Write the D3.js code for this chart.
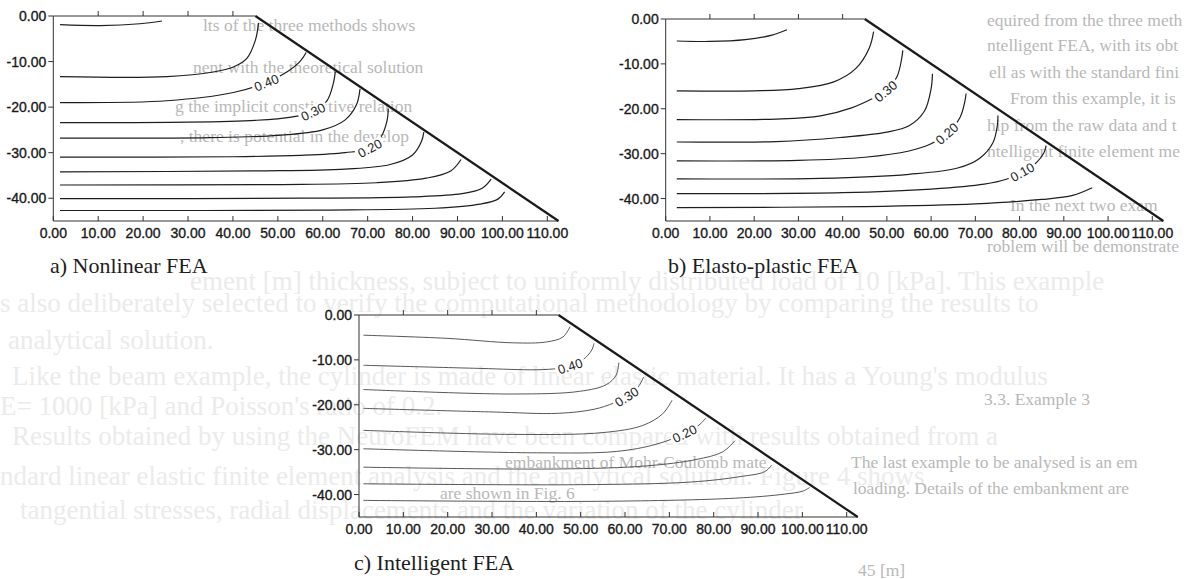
<!DOCTYPE html>
<html lang="en">
<head>
<meta charset="utf-8">
<title>embankment contours</title>
<script src="https://cdnjs.cloudflare.com/ajax/libs/d3/7.8.5/d3.min.js"></script>
<style>
  body { margin: 0; background: #fff; }
  svg { display: block; }
  .tick-label { font-family: "Liberation Sans", Arial, sans-serif; font-size: 14px; fill: #1a1a1a;
                stroke: #1a1a1a; stroke-width: 0.35px; }
  .caption { font-family: "Liberation Serif", "Times New Roman", serif; font-size: 22px; fill: #1e1e1e; }
  .clabel { font-family: "Liberation Sans", Arial, sans-serif; font-size: 13px; fill: #1e1e1e; }
  .page { font-family: "Liberation Serif", "Times New Roman", serif; }
</style>
</head>
<body>
<script>
var xTicks = [0, 10, 20, 30, 40, 50, 60, 70, 80, 90, 100, 110];
var yTicks = [0, -10, -20, -30, -40];
var crestTicks = [10, 20, 30, 40];
var crest = [[0, 0], [45, 0]];
var slope = [[45, 0], [112.5, -45]];
var captions = ["a) Nonlinear FEA", "b) Elasto-plastic FEA", "c) Intelligent FEA"];

// contour lines (x, y in metres)
var contoursA = [
  [[1.5, -1.9], [10.4, -2.1], [19.3, -1.7], [24.2, -1.1]],
  [[1.5, -13.3], [25.3, -13.3], [35.6, -12.3], [40.1, -11.2], [43.1, -9.3], [45, -5.3], [45.7, -1.5]],
  [[1.5, -19], [25.3, -18.6], [40.1, -16.8], [47.5, -14.6], [52, -12.3], [55, -9.9], [56.3, -8]],
  [[1.5, -23.4], [30, -23.3], [45, -22.9], [53, -22.2], [57.9, -21], [61, -18.5], [62.3, -15], [62.8, -12.2]],
  [[1.5, -26.8], [35, -26.7], [50, -26.2], [60, -25], [65, -22.8], [67.5, -19.5], [68.3, -16]],
  [[1.5, -31], [40, -30.9], [55, -30.6], [65, -30], [70.5, -29], [73, -26.5], [74.3, -23], [74.6, -20.3]],
  [[1.5, -34.2], [45, -34], [65, -33.6], [75, -32.6], [80, -30.5], [82, -27.5], [82.5, -25.5]],
  [[1.5, -37.1], [50, -37], [72, -36.6], [83, -35.6], [88.5, -34], [90.8, -31.5]],
  [[1.5, -40.1], [55, -40], [80, -39.7], [91, -39], [95.5, -37.8], [97.5, -35.8]],
  [[1.5, -42.7], [60, -42.6], [85, -42.2], [95, -41.3], [99, -40.2], [100.5, -38.6]]
];
var labelsA = [
  { line: 2, text: "0.40", at: [47.5, -14.6] },
  { line: 3, text: "0.30", at: [57.9, -21] },
  { line: 5, text: "0.20", at: [70.5, -29] }
];

var contoursB = [
  [[2.5, -4.9], [10, -5.0], [18, -4.6], [24, -3.6], [27.4, -2.4]],
  [[2.5, -16], [20, -16], [30, -15.5], [38, -14], [43, -11], [46, -6.5], [47, -2.8]],
  [[2.5, -22.4], [25, -22.3], [35, -21.6], [42, -19.8], [47, -17.6], [49.7, -16.1], [52.3, -12.8], [53.4, -8.5], [53.6, -7]],
  [[2.5, -27.4], [25, -27.3], [39.4, -26.4], [50, -25.2], [55, -23.8], [58.5, -20.5], [60, -15.5], [60.3, -12.2]],
  [[2.5, -31.6], [30, -31.5], [45, -30.8], [55, -29.4], [60, -27.8], [63.6, -25.5], [66.5, -22], [67.6, -18.5], [67.9, -16.6]],
  [[2.5, -35.6], [35, -35.5], [55, -34.6], [66, -33.2], [71, -31], [74, -27.5], [75, -23.5], [75.1, -21.5]],
  [[2.5, -38.9], [40, -38.7], [60, -37.9], [72, -36.8], [77, -35.7], [80.6, -34.1], [83.8, -32], [85.5, -29.8], [86, -28.2]],
  [[2.5, -42], [45, -41.8], [70, -41.2], [85, -40.2], [92, -39.3], [96.4, -37.6]]
];
var labelsB = [
  { line: 2, text: "0.30", at: [49.7, -16.1] },
  { line: 4, text: "0.20", at: [63.6, -25.5] },
  { line: 6, text: "0.10", at: [80.6, -34.1] }
];

var contoursC = [
  [[1, -4.5], [19.8, -5.2], [34.8, -6.2], [42.3, -6], [46, -4.9], [47.6, -2.6]],
  [[1, -11.2], [27.3, -11.9], [40, -12.2], [45, -11.9], [47.6, -11.4], [50.5, -10], [52.5, -7.8], [53, -6.3]],
  [[1, -16.6], [34.8, -17.6], [49.8, -17], [55.8, -15.5], [58, -13.4], [58.6, -10.6]],
  [[1, -20.8], [30, -21.6], [45, -21.9], [53, -21], [57.5, -19.6], [60.4, -18.2], [63, -16], [64.2, -13.8]],
  [[1, -25.7], [34.8, -26.6], [55, -26.2], [64, -24.6], [68.5, -22], [70.6, -19]],
  [[1, -29.8], [40, -30.7], [58, -30.4], [67, -28.8], [73.5, -26.4], [76.7, -24.5], [78.2, -23]],
  [[1, -33.9], [45, -34.3], [65, -33.6], [76, -32.2], [82, -30.5], [84.8, -28]],
  [[1, -37.6], [50, -37.8], [75, -37.2], [86, -36], [91.5, -34.9], [93.1, -33.4]],
  [[1, -41.3], [55, -41.5], [85, -40.8], [96, -39.9], [100.2, -39.2], [101.7, -38.4]]
];
var labelsC = [
  { line: 1, text: "0.40", at: [47.6, -11.4] },
  { line: 3, text: "0.30", at: [60.4, -18.2] },
  { line: 5, text: "0.20", at: [73.5, -26.4] }
];

// text of the book page that shows through the scan
var faintLines = [
  { t: "ement [m] thickness, subject to uniformly distributed load of 10 [kPa]. This example", x: 190, y: 290 },
  { t: "s also deliberately selected to verify the computational methodology by comparing the results to", x: 0, y: 312 },
  { t: "analytical solution.", x: 8, y: 349 },
  { t: "Like the beam example, the cylinder is made of linear elastic material. It has a Young's modulus", x: 12, y: 385 },
  { t: "E= 1000 [kPa] and Poisson's ratio of 0.2.", x: 0, y: 415 },
  { t: "Results obtained by using the NeuroFEM have been compared with results obtained from a", x: 12, y: 445 },
  { t: "ndard linear elastic finite element analysis and the analytical solution. Figure 4 shows", x: 0, y: 485 },
  { t: "tangential stresses, radial displacements and the variation of the cylinder", x: 20, y: 519 }
];
var greyLines = [
  { t: "lts of the three methods shows", x: 203, y: 31 },
  { t: "nent with the theoretical solution", x: 193, y: 73 },
  { t: "g the implicit constitutive relation", x: 175, y: 112 },
  { t: ", there is potential in the develop", x: 180, y: 142 },
  { t: "equired from the three meth", x: 987, y: 26 },
  { t: "ntelligent FEA, with its obta", x: 987, y: 51 },
  { t: "ell as with the standard fini", x: 989, y: 78 },
  { t: "From this example, it is ag", x: 1010, y: 104 },
  { t: "hip from the raw data and t", x: 987, y: 131 },
  { t: "ntelligent finite element meth", x: 987, y: 157 },
  { t: "In the next two exam", x: 1010, y: 211 },
  { t: "roblem will be demonstrate", x: 987, y: 252 },
  { t: "3.3. Example 3", x: 984, y: 405 },
  { t: "embankment of Mohr-Coulomb mate", x: 505, y: 468 },
  { t: "are shown in Fig. 6", x: 440, y: 499 },
  { t: "The last example to be analysed is an em", x: 851, y: 468 },
  { t: "loading. Details of the embankment are", x: 853, y: 494 },
  { t: "45 [m]", x: 858, y: 576 }
];

var width = 1187, height = 579;
var svg = d3.select("body").append("svg")
  .attr("width", width)
  .attr("height", height);

function pageText(rows, size, colour) {
  svg.selectAll(null).data(rows).enter().append("text")
    .attr("class", "page")
    .attr("x", function (d) { return d.x; })
    .attr("y", function (d) { return d.y; })
    .attr("font-size", size)
    .attr("fill", colour)
    .text(function (d) { return d.t; })
    .each(function (d) {
      // keep the fragment inside the picture
      var room = width - 4 - d.x;
      var s = d.t;
      while (s.length > 1 && this.getComputedTextLength() > room) {
        s = s.slice(0, -1);
        this.textContent = s;
      }
    });
}
pageText(faintLines, 27, "#ebebeb");
pageText(greyLines, 17.5, "#b8b8b8");

var panels = [
  { xr: [53.3, 547.3], yr: [16, 221], contours: contoursA, labels: labelsA, caption: [50, 273],
    lineColor: "#1e1e1e", lineWidth: 1.2 },
  { xr: [665.7, 1152.3], yr: [19, 221], contours: contoursB, labels: labelsB, caption: [668, 273],
    lineColor: "#1e1e1e", lineWidth: 1.2 },
  { xr: [359, 846.7], yr: [315, 517], contours: contoursC, labels: labelsC, caption: [354, 570],
    lineColor: "#444", lineWidth: 0.9 }
];

panels.forEach(function (p, i) {
  var x = d3.scaleLinear().domain([0, 110]).range(p.xr);
  var y = d3.scaleLinear().domain([0, -45]).range(p.yr);
  var g = svg.append("g");
  var line = d3.line().x(function (d) { return x(d[0]); }).y(function (d) { return y(d[1]); });
  var smooth = d3.line().x(function (d) { return x(d[0]); }).y(function (d) { return y(d[1]); })
    .curve(d3.curveCatmullRom.alpha(0.5));

  // bottom axis, ticks pointing inward
  g.append("line")
    .attr("x1", x(0)).attr("x2", x(slope[1][0]))
    .attr("y1", y(-45)).attr("y2", y(-45))
    .attr("stroke", "#333").attr("stroke-width", 1);
  g.selectAll(".xt").data(xTicks).enter().append("line")
    .attr("x1", function (d) { return x(d); }).attr("x2", function (d) { return x(d); })
    .attr("y1", y(-45)).attr("y2", y(-45) - 5)
    .attr("stroke", "#333").attr("stroke-width", 1);
  g.selectAll(".xl").data(xTicks).enter().append("text")
    .attr("class", "tick-label")
    .attr("x", function (d) { return x(d); })
    .attr("y", y(-45) + 17)
    .attr("text-anchor", "middle")
    .text(function (d) { return d.toFixed(2); });

  // left axis, ticks pointing out
  g.append("line")
    .attr("x1", x(0)).attr("x2", x(0))
    .attr("y1", y(0)).attr("y2", y(-45))
    .attr("stroke", "#333").attr("stroke-width", 1);
  g.selectAll(".yt").data(yTicks).enter().append("line")
    .attr("x1", x(0) - 5).attr("x2", x(0))
    .attr("y1", function (d) { return y(d); }).attr("y2", function (d) { return y(d); })
    .attr("stroke", "#333").attr("stroke-width", 1);
  g.selectAll(".yl").data(yTicks).enter().append("text")
    .attr("class", "tick-label")
    .attr("x", x(0) - 7)
    .attr("y", function (d) { return y(d); })
    .attr("dy", "0.36em")
    .attr("text-anchor", "end")
    .text(function (d) { return d.toFixed(2); });

  // crest with its ticks
  g.append("path").attr("d", line(crest))
    .attr("fill", "none").attr("stroke", "#333").attr("stroke-width", 1);
  g.selectAll(".ct").data(crestTicks).enter().append("line")
    .attr("x1", function (d) { return x(d); }).attr("x2", function (d) { return x(d); })
    .attr("y1", y(0)).attr("y2", y(0) - 5)
    .attr("stroke", "#333").attr("stroke-width", 1);

  // slope face
  g.append("path").attr("d", line(slope))
    .attr("fill", "none").attr("stroke", "#1a1a1a").attr("stroke-width", 2.2);

  // contour lines
  var paths = g.selectAll(".contour").data(p.contours).enter().append("path")
    .attr("d", smooth)
    .attr("fill", "none")
    .attr("stroke", p.lineColor)
    .attr("stroke-width", p.lineWidth);

  // contour labels, turned along the line, with a white gap behind
  p.labels.forEach(function (lb) {
    var node = paths.nodes()[lb.line];
    var len = node.getTotalLength();
    var px = x(lb.at[0]), py = y(lb.at[1]);
    var best = 0, bestD = Infinity;
    for (var s = 0; s <= len; s += 0.5) {
      var pt = node.getPointAtLength(s);
      var dd = (pt.x - px) * (pt.x - px) + (pt.y - py) * (pt.y - py);
      if (dd < bestD) { bestD = dd; best = s; }
    }
    var a = node.getPointAtLength(Math.max(0, best - 4));
    var b = node.getPointAtLength(Math.min(len, best + 4));
    var c = node.getPointAtLength(best);
    var ang = Math.atan2(b.y - a.y, b.x - a.x) * 180 / Math.PI;
    var lg = g.append("g")
      .attr("transform", "translate(" + c.x + "," + c.y + ") rotate(" + ang + ")");
    lg.append("rect")
      .attr("x", -15).attr("y", -6).attr("width", 30).attr("height", 12)
      .attr("fill", "#fff");
    lg.append("text")
      .attr("class", "clabel")
      .attr("text-anchor", "middle")
      .attr("dy", "0.36em")
      .text(lb.text);
  });

  svg.append("text")
    .attr("class", "caption")
    .attr("x", p.caption[0]).attr("y", p.caption[1])
    .text(captions[i]);
});
</script>
</body>
</html>
